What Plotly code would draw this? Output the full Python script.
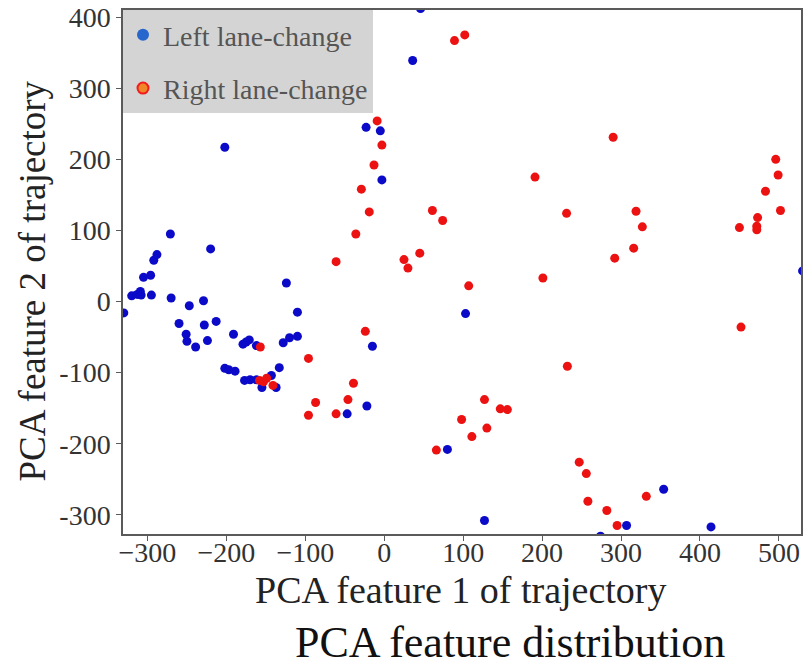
import plotly.graph_objects as go

# PCA projections of trajectories, split by manoeuvre type
left_x = [-330, -320, -313, -309, -308, -295, -305, -296, -292, -288, -271, -270,
          -260, -251, -250, -247, -239, -229, -228, -224, -220, -213, -202, -191,
          -179, -175, -171, -162, -202, -197, -189, -177, -170, -162, -155, -143,
          -137, -133, -128, -120, -110, -110, -124, -15, -3, -23, -5, -44, -22,
          -47, 46, 36, 530, 103, 80, 127, 274, 307, 354, 414]
left_y = [-16, 8, 10, 14, 9, 9, 34, 37, 58, 66, 95, 5,
          -31, -46, -56, -6, -64, 1, -33, -55, 74, -28, 217, -46,
          -60, -57, -54, -62, -94, -96, -98, -111, -110, -110, -121, -104,
          -121, -93, -58, -51, -49, -15, 26, -63, 171, 245, 240, 412, -147,
          -158, 412, 339, 43, -17, -208, -308, -330, -315, -264, -317]

right_x = [-9, -3, -13, -29, -19, -36, -61, 25, 30, -24, -96, -157, -158, -153,
           -149, -141, -39, -87, -96, -61, -46, 89, 102, 290, 191, 61, 74, 231,
           319, 327, 316, 292, 496, 499, 483, 502, 473, 472, 472, 450, 45, 201,
           107, 452, 232, 127, 147, 156, 98, 130, 111, 66, 247, 256, 258, 282,
           295, 332]
right_y = [254, 220, 192, 158, 126, 95, 56, 59, 47, -42, -80, -64, -111, -113,
           -108, -118, -115, -142, -160, -158, -138, 367, 375, 231, 175, 128, 114, 124,
           127, 105, 75, 61, 200, 178, 155, 128, 118, 106, 101, 104, 68, 33,
           22, -36, -91, -138, -151, -152, -166, -178, -190, -209, -226, -242, -281, -294,
           -315, -274]

series_names = ["Left lane-change", "Right lane-change"]
x_ticks = [-300, -200, -100, 0, 100, 200, 300, 400, 500]
y_ticks = [-300, -200, -100, 0, 100, 200, 300, 400]
y_tick_text = ["-300", "-200", "-100", "0", "100", "200", "300", "400"]

SERIF = "Liberation Serif, Times New Roman, serif"

fig = go.Figure()

# scatter points (left first so right lane-change sits on top)
fig.add_trace(go.Scatter(x=left_x, y=left_y, mode="markers", showlegend=False,
                         marker=dict(size=9, color="#0a0ac8", line=dict(width=0))))
fig.add_trace(go.Scatter(x=right_x, y=right_y, mode="markers", showlegend=False,
                         marker=dict(size=9, color="#ec1212", line=dict(width=0))))

# legend swatches
fig.add_trace(go.Scatter(x=[None], y=[None], mode="markers", name=series_names[0],
                         legendgroup="a",
                         marker=dict(size=12, color="#2766cc", line=dict(width=0))))
fig.add_trace(go.Scatter(x=[None], y=[None], mode="markers", name=series_names[1],
                         legendgroup="b",
                         marker=dict(size=11, color="#f0862a",
                                     line=dict(width=2, color="#f21c1c"))))

axis_common = dict(showline=True, linecolor="#5a5a5a", linewidth=1.5, mirror=True,
                   ticks="outside", ticklen=5, tickcolor="#5a5a5a",
                   showgrid=False, zeroline=False,
                   tickfont=dict(family=SERIF, size=28, color="#333333"))

fig.update_xaxes(range=[-331, 528], tickvals=x_ticks, ticklabelstandoff=-12,
                 **axis_common)
fig.update_yaxes(range=[-327, 410], tickvals=y_ticks, ticktext=y_tick_text,
                 **axis_common)

fig.update_layout(
    width=805, height=667,
    margin=dict(l=123, r=2, t=9, b=133),
    plot_bgcolor="white", paper_bgcolor="white",
    legend=dict(x=0, y=1, xanchor="left", yanchor="top",
                bgcolor="#d4d4d4", borderwidth=0,
                font=dict(family=SERIF, size=28, color="#555555"),
                tracegroupgap=14, itemwidth=30, entrywidth=220),
    annotations=[
        dict(text="PCA feature 1 of trajectory", xref="paper", yref="paper",
             x=0.499, y=-0.107, xanchor="center", yanchor="middle", showarrow=False,
             font=dict(family=SERIF, size=38, color="#222222")),
        dict(text="PCA feature 2 of trajectory", xref="paper", yref="paper",
             x=-0.134, y=0.482, xanchor="center", yanchor="middle", showarrow=False,
             textangle=-90,
             font=dict(family=SERIF, size=37, color="#222222")),
        dict(text="PCA feature distribution", xref="paper", yref="paper",
             x=0.571, y=-0.208, xanchor="center", yanchor="middle", showarrow=False,
             font=dict(family=SERIF, size=44, color="#111111")),
    ],
)

fig.write_html("out.html")
